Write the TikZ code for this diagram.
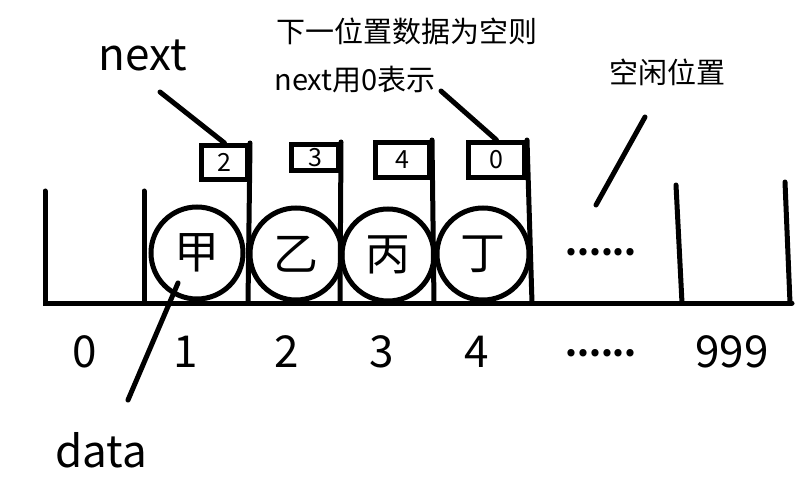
\documentclass[tikz,border=0pt]{standalone}
\usepackage{fontspec}
\setmainfont{Noto Sans CJK SC}
\begin{document}
\begin{tikzpicture}[x=1pt,y=-1pt,
  ln/.style={line width=5pt,line cap=round},
  cell/.style={circle,draw,line width=5pt,minimum size=92pt,inner sep=0pt,font=\fontsize{45}{48}\selectfont},
  nbox/.style={rectangle,draw,line width=5pt,inner sep=0pt,font=\fontsize{25}{26}\selectfont},
  big/.style={font=\fontsize{44}{48}\selectfont},
  note/.style={font=\fontsize{29}{30}\selectfont},
  dotsty/.style={font=\fontsize{34}{36}\selectfont\bfseries,anchor=base}]
\useasboundingbox (0,0) rectangle (804,500);
% boxes
\node[nbox,minimum width=46pt,minimum height=34pt] (b1) at (224.5,162.5) {2};
\node[nbox,minimum width=47pt,minimum height=26pt] (b2) at (315,157.5) {3};
\node[nbox,minimum width=54pt,minimum height=35pt] (b3) at (402.5,160) {4};
\node[nbox,minimum width=56pt,minimum height=35pt] (b4) at (496.5,160) {0};
% cells
\node[cell] (c1) at (197,253) {甲};
\node[cell] (c2) at (296,254) {乙};
\node[cell] (c3) at (388,255) {丙};
\node[cell] (c4) at (483,254) {丁};
% baseline and walls
\coordinate (bl) at (45,303);
\coordinate (br) at (792,303);
\draw[ln] (45,191) -- (bl) -- (br);
\draw[ln] (144,191) -- (144,303);
\draw[ln] (b1.north east) -- (248,303);
\draw[ln] (b2.north east) -- (340,303);
\draw[ln] (b3.north east) -- (434,303);
\draw[ln] (b4.north east) -- (532,303);
\draw[ln] (676,185) -- (682,303);
\draw[ln] (785,182) -- (790,303);
% dots
\node[dotsty] (dots1) at (601,255) {......};
% indices
\node[big] (i0) at (85,352) {0};
\node[big] (i1) at (186,352) {1};
\node[big] (i2) at (287,352) {2};
\node[big] (i3) at (382,352) {3};
\node[big] (i4) at (477,352) {4};
\node[dotsty] (i5) at (601,356) {......};
\node[big] (i6) at (732,352) {999};
% labels
\node[big] (next) at (143,55) {next};
\node[big] (data) at (101,450) {data};
\node[note] (n1) at (407,31) {下一位置数据为空则};
\node[note] (n2) at (355,80) {next用0表示};
\node[note] (free) at (667,72) {空闲位置};
% pointers
\coordinate (p1) at (160,92);
\draw[ln] (p1) -- (b1.north);
\coordinate (p2) at (441,91);
\draw[ln] (p2) -- (b4.north);
\coordinate (p3) at (645,117);
\coordinate (p3e) at (596,205);
\draw[ln] (p3) -- (p3e);
\coordinate (p4) at (178,283);
\coordinate (p4e) at (128,400);
\draw[ln] (p4) -- (p4e);
\end{tikzpicture}
\end{document}
